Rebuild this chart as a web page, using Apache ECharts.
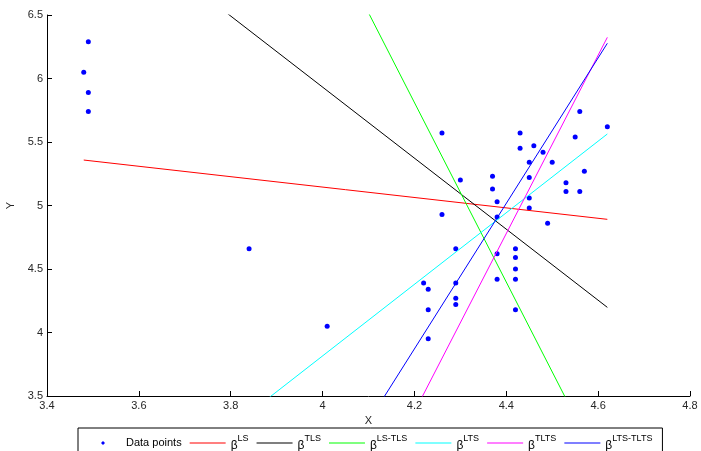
<!DOCTYPE html>
<html>
<head>
<meta charset="utf-8">
<script src="https://cdn.jsdelivr.net/npm/echarts@6/dist/echarts.min.js"></script>
<style>html,body{margin:0;padding:0;background:#fff;}#c{width:701px;height:451px;}</style>
</head>
<body>
<div id="c"></div>
<script>
const xTicks = [3.4, 3.6, 3.8, 4.0, 4.2, 4.4, 4.6, 4.8];
const yTicks = [3.5, 4, 4.5, 5, 5.5, 6, 6.5];

const dataX = [3.48, 3.49, 3.49, 3.49, 3.84, 4.01, 4.26, 4.43, 4.62, 4.55, 4.56, 4.43, 4.46, 4.48, 4.45,
  4.50, 4.57, 4.37, 4.30, 4.45, 4.53, 4.37, 4.53, 4.56, 4.38, 4.45, 4.45, 4.26, 4.38, 4.49,
  4.29, 4.42, 4.38, 4.42, 4.42, 4.42, 4.38, 4.22, 4.29, 4.23, 4.29, 4.29, 4.23, 4.42, 4.23];
const dataY = [6.05, 6.29, 5.89, 5.74, 4.66, 4.05, 5.57, 5.57, 5.62, 5.54, 5.74, 5.45, 5.47, 5.42, 5.34,
  5.34, 5.27, 5.23, 5.20, 5.22, 5.18, 5.13, 5.11, 5.11, 5.03, 5.06, 4.98, 4.93, 4.91, 4.86,
  4.66, 4.66, 4.62, 4.59, 4.50, 4.42, 4.42, 4.39, 4.39, 4.34, 4.27, 4.22, 4.18, 4.18, 3.95];

// fitted lines: endpoints at the data x-range [3.48, 4.62]
const lineX = [3.48, 4.62];
const lsY = [5.358, 4.891];
const tlsY = [7.387, 4.198];
const lsTlsY = [10.90, 2.842];
const ltsY = [2.35, 5.563];
const tltsY = [-1.68, 6.324];
const ltsTltsY = [-0.253, 6.277];

const names = ['Data points', 'LS', 'TLS', 'LS-TLS', 'LTS', 'TLTS', 'LTS-TLTS'];
const lineColors = ['#ff0000', '#000000', '#00ff00', '#00ffff', '#ff00ff', '#0000ff'];
const lineYs = [lsY, tlsY, lsTlsY, ltsY, tltsY, ltsTltsY];

const font = 'Liberation Sans, Arial, Helvetica, sans-serif';
const chart = echarts.init(document.getElementById('c'), null, {renderer: 'canvas'});

const series = [{
  name: names[0],
  type: 'scatter',
  symbol: 'circle',
  symbolSize: 5,
  itemStyle: {color: '#0000ff', opacity: 1},
  data: dataX.map((x, i) => [x, dataY[i]]),
  z: 2
}];
lineYs.forEach((ys, k) => {
  series.push({
    name: names[k + 1],
    type: 'line',
    symbol: 'none',
    clip: true,
    lineStyle: {color: lineColors[k], width: 1},
    itemStyle: {color: lineColors[k]},
    data: lineX.map((x, i) => [x, ys[i]]),
    z: 3
  });
});

const axisCommon = {
  axisLine: {show: true, lineStyle: {color: '#000', width: 1}},
  axisTick: {show: true, inside: true, length: 5, lineStyle: {color: '#000'}},
  splitLine: {show: false},
  axisLabel: {color: '#262626', fontFamily: font, fontSize: 11, margin: 4},
  nameTextStyle: {color: '#262626', fontFamily: font, fontSize: 11}
};

const lineIcon = 'path://M0,5.5L36,5.5L36,6.5L0,6.5Z';
const legendData = names.map((n, i) => i === 0
  ? {name: n, icon: 'path://M0,0M36,12M16,6L18,4L20,6L18,8Z'}
  : {name: n, icon: lineIcon});

chart.setOption({
  animation: false,
  backgroundColor: '#fff',
  grid: {left: 47, right: 11, top: 15, bottom: 55, containLabel: false, outerBoundsMode: 'none'},
  xAxis: Object.assign({}, axisCommon, {
    type: 'value', min: xTicks[0], max: xTicks[xTicks.length - 1], interval: 0.2,
    name: 'X', nameLocation: 'middle', nameGap: 16
  }),
  yAxis: Object.assign({}, axisCommon, {
    type: 'value', min: yTicks[0], max: yTicks[yTicks.length - 1], interval: 0.5,
    name: 'Y', nameLocation: 'middle', nameGap: 30
  }),
  legend: {
    left: 78, top: 428, width: 610,
    orient: 'horizontal',
    backgroundColor: '#fff',
    borderColor: '#000', borderWidth: 1,
    padding: [6, 10, 12, 7],
    itemWidth: 36, itemHeight: 12, itemGap: 8,
    data: legendData,
    formatter: function (n) {
      if (n === 'Data points') return '{t|Data points}';
      return '{b|β}{s|' + n + '}';
    },
    textStyle: {
      color: '#000', fontFamily: font, fontSize: 11,
      rich: {
        t: {fontFamily: font, fontSize: 11, color: '#000'},
        b: {fontFamily: font, fontSize: 12, color: '#000', verticalAlign: 'bottom', padding: [6, 0, 0, 0]},
        s: {fontFamily: font, fontSize: 9, color: '#000', verticalAlign: 'top', padding: [0, 0, 4, 0]}
      }
    }
  },
  series: series
});
</script>
</body>
</html>
